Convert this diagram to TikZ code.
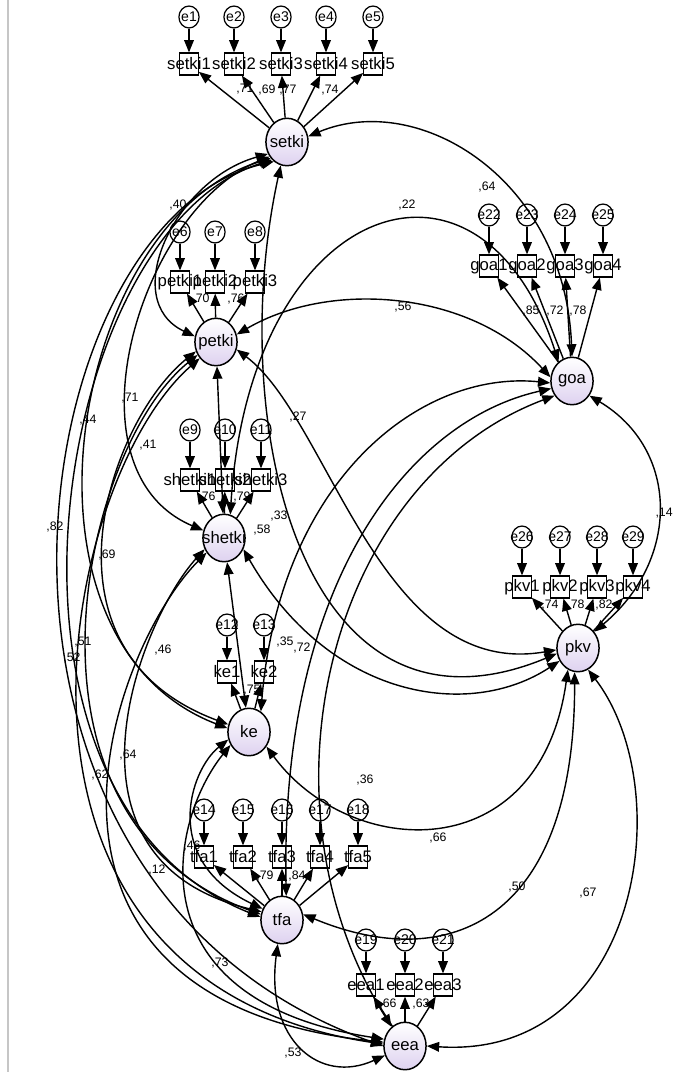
\documentclass[tikz,border=0pt]{standalone}
\usepackage{fontspec}
\setmainfont{Liberation Sans}
\usetikzlibrary{arrows.meta,shapes.geometric}
\definecolor{lav}{RGB}{222,210,240}
\begin{document}
\begin{tikzpicture}[x=0.02cm,y=-0.02cm,
  lat/.style={ellipse,draw,line width=0.85pt,minimum width=24pt,minimum height=27pt,inner sep=0pt,top color=white,bottom color=lav},
  ind/.style={rectangle,draw,line width=0.7pt,minimum width=10.5pt,minimum height=12.5pt,inner sep=0pt,fill=white},
  err/.style={ellipse,draw,line width=0.7pt,minimum width=11.5pt,minimum height=12.5pt,inner sep=0pt,fill=white},
  lt/.style={font=\fontsize{9.5}{9.5}\selectfont,inner sep=0pt},
  it/.style={font=\fontsize{9.5}{9.5}\selectfont,inner sep=0pt},
  et/.style={font=\fontsize{8}{8}\selectfont,inner sep=0pt},
  num/.style={font=\fontsize{7}{7}\selectfont,inner sep=0pt},
  load/.style={line width=0.8pt,-{Triangle[length=7pt,width=5.5pt]}},
  cov/.style={line width=0.8pt,{Triangle[length=7pt,width=5.5pt]}-{Triangle[length=7pt,width=5.5pt]}},
]
\useasboundingbox[fill=white] (0,0) rectangle (674,1072);
\draw[gray!45,line width=0.6pt] (8,0) -- (8,1072);

% latent variables
\node[lat,label={[lt]center:setki}]  (setki)  at (287,142) {};
\node[lat,label={[lt]center:petki}]  (petki)  at (216,342) {};
\node[lat,label={[lt]center:shetki}] (shetki) at (224,538) {};
\node[lat,label={[lt]center:ke}]     (ke)     at (249,732) {};
\node[lat,label={[lt]center:tfa}]    (tfa)    at (282,920) {};
\node[lat,label={[lt]center:eea}]    (eea)    at (405,1046) {};
\node[lat,label={[lt]center:goa}]    (goa)    at (572,381) {};
\node[lat,label={[lt]center:pkv}]    (pkv)    at (578,648) {};

% indicators and errors
\foreach \i/\x/\e in {1/189/1,2/234/2,3/281/3,4/326/4,5/373/5}{
  \node[ind,label={[it]center:setki\i}] (S\i) at (\x,64) {};
  \node[err,label={[et]center:e\e}] (eS\i) at (\x,17) {};
  \draw[load] (eS\i) -- (S\i);
  \draw[load] (setki) -- (S\i);
}
\foreach \i/\x/\e in {1/180/6,2/215/7,3/255/8}{
  \node[ind,label={[it]center:petki\i}] (P\i) at (\x,282) {};
  \node[err,label={[et]center:e\e}] (eP\i) at (\x,232) {};
  \draw[load] (eP\i) -- (P\i);
  \draw[load] (petki) -- (P\i);
}
\foreach \i/\x/\e in {1/190/9,2/225/10,3/261/11}{
  \node[ind,label={[it]center:shetki\i}] (H\i) at (\x,480) {};
  \node[err,label={[et]center:e\e}] (eH\i) at (\x,430) {};
  \draw[load] (eH\i) -- (H\i);
  \draw[load] (shetki) -- (H\i);
}
\foreach \i/\x/\e in {1/227/12,2/264/13}{
  \node[ind,label={[it]center:ke\i}] (K\i) at (\x,672) {};
  \node[err,label={[et]center:e\e}] (eK\i) at (\x,625) {};
  \draw[load] (eK\i) -- (K\i);
  \draw[load] (ke) -- (K\i);
}
\foreach \i/\x/\e in {1/204/14,2/243/15,3/282/16,4/320/17,5/358/18}{
  \node[ind,label={[it]center:tfa\i}] (T\i) at (\x,857) {};
  \node[err,label={[et]center:e\e}] (eT\i) at (\x,810) {};
  \draw[load] (eT\i) -- (T\i);
  \draw[load] (tfa) -- (T\i);
}
\foreach \i/\x/\e in {1/366/19,2/405/20,3/443/21}{
  \node[ind,label={[it]center:eea\i}] (A\i) at (\x,985) {};
  \node[err,label={[et]center:e\e}] (eA\i) at (\x,940) {};
  \draw[load] (eA\i) -- (A\i);
  \draw[load] (eea) -- (A\i);
}
\foreach \i/\x/\e in {1/489/22,2/527/23,3/565/24,4/603/25}{
  \node[ind,label={[it]center:goa\i}] (G\i) at (\x,266) {};
  \node[err,label={[et]center:e\e}] (eG\i) at (\x,215) {};
  \draw[load] (eG\i) -- (G\i);
  \draw[load] (goa) -- (G\i);
}
\foreach \i/\x/\e in {1/522/26,2/560/27,3/597/28,4/633/29}{
  \node[ind,label={[it]center:pkv\i}] (V\i) at (\x,587) {};
  \node[err,label={[et]center:e\e}] (eV\i) at (\x,537) {};
  \draw[load] (eV\i) -- (V\i);
  \draw[load] (pkv) -- (V\i);
}

% covariances, left side
\draw[cov] (setki.212) .. controls (175,180) and (118,300) .. (petki.165);
\draw[cov] (setki.220) .. controls (140,210) and (61,470) .. (shetki.160);
\draw[cov] (setki.225) .. controls (70,220) and (-2,640) .. (ke.170);
\draw[cov] (setki.230) .. controls (50,230) and (-37,800) .. (tfa.172);
\draw[cov] (setki.236) .. controls (20,220) and (-80,880) .. (eea.180);
\draw[cov] (petki) -- (shetki);
\draw[cov] (petki.205) .. controls (110,420) and (28,650) .. (ke.160);
\draw[cov] (petki.215) .. controls (80,450) and (1,820) .. (tfa.165);
\draw[cov] (petki.225) .. controls (60,480) and (-42,980) .. (eea.175);
\draw[cov] (shetki) -- (ke);
\draw[cov] (shetki.210) .. controls (140,620) and (45,860) .. (tfa.158);
\draw[cov] (shetki.220) .. controls (110,650) and (-15,1000) .. (eea.170);
\draw[cov] (ke.200) .. controls (190,770) and (160,860) .. (tfa.150);
\draw[cov] (ke.215) .. controls (170,820) and (130,1000) .. (eea.162);
\draw[cov] (tfa.260) .. controls (265,1040) and (320,1085) .. (eea.205);

% covariances, right side
\draw[cov] (setki.15) .. controls (420,90) and (565,180) .. (goa.90);
\draw[cov] (shetki.75) .. controls (250,200) and (480,120) .. (goa.125);
\draw[cov] (petki.20) .. controls (330,280) and (470,290) .. (goa.170);
\draw[cov] (ke.60) .. controls (280,480) and (420,370) .. (goa.185);
\draw[cov] (tfa.80) .. controls (280,580) and (410,420) .. (goa.200);
\draw[cov] (eea.125) .. controls (250,800) and (330,480) .. (goa.220);
\draw[cov] (setki.255) .. controls (225,420) and (300,760) .. (pkv.195);
\draw[cov] (petki.340) .. controls (330,420) and (380,680) .. (pkv.185);
\draw[cov] (shetki.330) .. controls (330,700) and (470,720) .. (pkv.215);
\draw[cov] (ke.320) .. controls (350,860) and (540,870) .. (pkv.245);
\draw[cov] (tfa.15) .. controls (450,975) and (575,920) .. (pkv.262);
\draw[cov] (eea.0) .. controls (640,1060) and (680,790) .. (pkv.295);
\draw[cov] (goa.320) .. controls (680,450) and (680,560) .. (pkv.45);

% loading labels
\node[num] (l1) at (245,89) {,71};
\node[num] (l2) at (267,90) {,69};
\node[num] (l3) at (288,90) {,77};
\node[num] (l4) at (330,90) {,74};
\node[num] (l5) at (201,299) {,70};
\node[num] (l6) at (236,299) {,76};
\node[num] (l7) at (207,497) {,76};
\node[num] (l8) at (242,497) {,79};
\node[num] (l9) at (252,690) {,75};
\node[num] (l10) at (192,846) {,46};
\node[num] (l11) at (265,876) {,79};
\node[num] (l12) at (297,876) {,84};
\node[num] (l13) at (388,1004) {,66};
\node[num] (l14) at (421,1004) {,63};
\node[num] (l15) at (531,311) {,85};
\node[num] (l16) at (555,311) {,72};
\node[num] (l17) at (578,311) {,78};
\node[num] (l18) at (550,605) {,74};
\node[num] (l19) at (576,605) {,78};
\node[num] (l20) at (604,605) {,82};

% covariance labels
\node[num] (c1) at (487,187) {,64};
\node[num] (c2) at (178,205) {,40};
\node[num] (c3) at (407,205) {,22};
\node[num] (c4) at (403,307) {,56};
\node[num] (c5) at (298,417) {,27};
\node[num] (c6) at (130,398) {,71};
\node[num] (c7) at (88,420) {,44};
\node[num] (c8) at (148,445) {,41};
\node[num] (c9) at (55,527) {,82};
\node[num] (c10) at (107,555) {,69};
\node[num] (c11) at (262,530) {,58};
\node[num] (c12) at (279,516) {,33};
\node[num] (c13) at (285,642) {,35};
\node[num] (c14) at (302,648) {,72};
\node[num] (c15) at (83,642) {,51};
\node[num] (c16) at (72,658) {,52};
\node[num] (c17) at (163,650) {,46};
\node[num] (c18) at (128,755) {,64};
\node[num] (c19) at (100,775) {,62};
\node[num] (c20) at (365,780) {,36};
\node[num] (c21) at (438,838) {,66};
\node[num] (c22) at (157,870) {,12};
\node[num] (c23) at (517,887) {,50};
\node[num] (c24) at (588,893) {,67};
\node[num] (c25) at (220,963) {,73};
\node[num] (c26) at (293,1053) {,53};
\node[num,anchor=east] (c27) at (673,513) {,14};
\end{tikzpicture}
\end{document}
